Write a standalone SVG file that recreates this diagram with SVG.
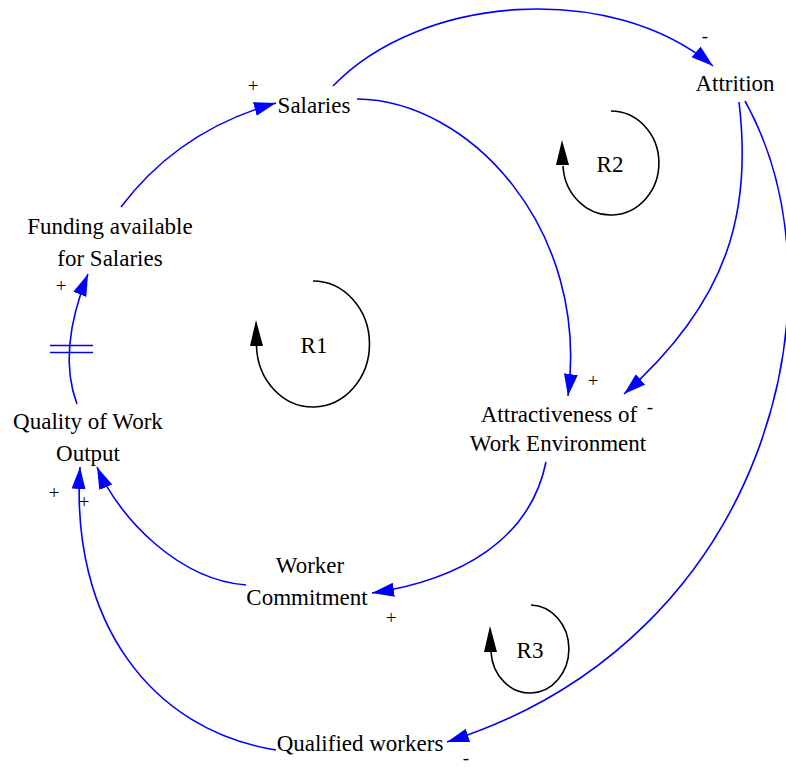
<svg xmlns="http://www.w3.org/2000/svg" width="786" height="767" viewBox="0 0 786 767">
<style>
.t{font-family:"Liberation Serif","DejaVu Serif","Times New Roman",serif;font-size:23px;fill:#000;text-anchor:middle}
.s{font-family:"Liberation Serif","DejaVu Serif","Times New Roman",serif;font-size:19px;fill:#000;text-anchor:middle}
.c{fill:none;stroke:#0000ff;stroke-width:1.6}
.l{fill:none;stroke:#000;stroke-width:1.6}
</style>
<defs>
<marker id="ah" markerUnits="userSpaceOnUse" markerWidth="24" markerHeight="16" refX="22" refY="7" orient="auto">
<path d="M0,0 L22,7 L0,14 z" fill="#0000ff"/>
</marker>
</defs>
<rect width="786" height="767" fill="#fff"/>
<g id="connectors">
<path class="c" d="M121,207 Q179,130 276,103" marker-end="url(#ah)"/>
<path class="c" d="M77,404 Q57,351 88,274" marker-end="url(#ah)"/>
<line x1="50" y1="345.5" x2="93" y2="345.5" stroke="#0000ff" stroke-width="1.6"/>
<line x1="50" y1="352.5" x2="93" y2="352.5" stroke="#0000ff" stroke-width="1.6"/>
<path class="c" d="M357,99 C470,100 590,230 568,396" marker-end="url(#ah)"/>
<path class="c" d="M333,86 C420,-5 610,-20 713,66" marker-end="url(#ah)"/>
<path class="c" d="M739,102 C752,210 730,300 624,394" marker-end="url(#ah)"/>
<path class="c" d="M745,101 C850,290 770,640 447,742" marker-end="url(#ah)"/>
<path class="c" d="M546,462 C530,540 460,580 372,593" marker-end="url(#ah)"/>
<path class="c" d="M246,585 C180,580 120,520 97,467" marker-end="url(#ah)"/>
<path class="c" d="M276,750 C150,730 70,620 80,467" marker-end="url(#ah)"/>
</g>
<g id="signs">
<text class="s" x="253" y="92">+</text>
<text class="s" x="61" y="292">+</text>
<text class="s" x="593" y="387">+</text>
<text class="s" x="705" y="42">-</text>
<text class="s" x="650" y="413">-</text>
<text class="s" x="466" y="764" font-size="16">-</text>
<text class="s" x="391" y="624">+</text>
<text class="s" x="84" y="508">+</text>
<text class="s" x="54" y="499">+</text>
</g>
<g id="salaries"><text class="t" x="314" y="113">Salaries</text></g>
<g id="attrition"><text class="t" x="735" y="91">Attrition</text></g>
<g id="funding"><text class="t" x="110" y="234">Funding available</text><text class="t" x="110" y="266">for Salaries</text></g>
<g id="quality"><text class="t" x="88" y="429">Quality of Work</text><text class="t" x="88" y="461">Output</text></g>
<g id="attractiveness"><text class="t" x="559" y="422">Attractiveness of</text><text class="t" x="558" y="451">Work Environment</text></g>
<g id="commitment"><text class="t" x="310" y="573">Worker</text><text class="t" x="307" y="605">Commitment</text></g>
<g id="qualified"><text class="t" x="360" y="751">Qualified workers</text></g>
<g id="loopR1">
<path class="l" d="M313,281 A56.5,63 0 1 1 256.5,346"/>
<polygon points="256,320 250,346 263,346" fill="#000"/>
<text class="t" x="314" y="353">R1</text>
</g>
<g id="loopR2">
<path class="l" d="M611,111 A48,52 0 1 1 563,166"/>
<polygon points="562,140 556,165 569,165" fill="#000"/>
<text class="t" x="610" y="172">R2</text>
</g>
<g id="loopR3">
<path class="l" d="M531,605 A39,44 0 1 1 491,652"/>
<polygon points="490,626 484,652 497,652" fill="#000"/>
<text class="t" x="530" y="658">R3</text>
</g>
</svg>
